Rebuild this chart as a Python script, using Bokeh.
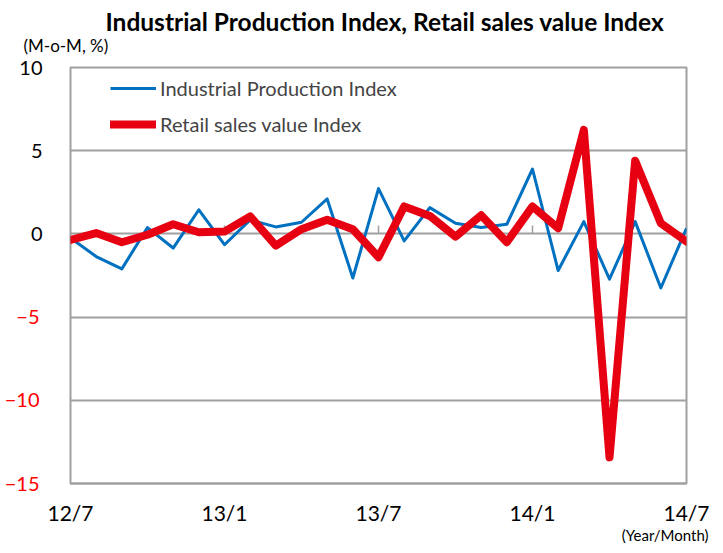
from bokeh.plotting import figure
from bokeh.models import FixedTicker, Legend, LegendItem, Range1d, Title, LinearAxis
from bokeh.layouts import column, row
from bokeh.core.properties import value
from bokeh.embed import file_html
from bokeh.resources import INLINE

# ---- data ----
months = ["12/7", "12/8", "12/9", "12/10", "12/11", "12/12",
          "13/1", "13/2", "13/3", "13/4", "13/5", "13/6",
          "13/7", "13/8", "13/9", "13/10", "13/11", "13/12",
          "14/1", "14/2", "14/3", "14/4", "14/5", "14/6", "14/7"]
industrial = [-0.25, -1.36, -2.1, 0.38, -0.85, 1.45, -0.65, 0.84, 0.42, 0.7,
              2.1, -2.65, 2.72, -0.42, 1.58, 0.64, 0.38, 0.58, 3.9, -2.2,
              0.74, -2.72, 0.74, -3.25, 0.34]
retail = [-0.36, 0.05, -0.5, -0.05, 0.58, 0.1, 0.14, 1.05, -0.7, 0.28,
          0.85, 0.28, -1.4, 1.65, 1.08, -0.16, 1.12, -0.5, 1.65, 0.34,
          6.25, -13.43, 4.4, 0.64, -0.46]
y_ticks = [-15, -10, -5, 0, 5, 10]
x_tick_idx = [0, 6, 12, 18, 24]
zero_tick_idx = [6, 12, 18]

title_text = "Industrial Production Index, Retail sales value Index"
unit_text = "(M-o-M, %)"
xunit_text = "(Year/Month)"

x = list(range(len(months)))
FONT = "Lato"
GRAY = "#a0a0a0"
RED_TXT = "#ff0000"

TOTAL_W, TOTAL_H = 715, 545
TOP_H = 56

# ---- top strip: title and unit ----
top = figure(width=TOTAL_W, height=TOP_H, output_backend="svg", toolbar_location=None,
             title=None, x_range=Range1d(0, TOTAL_W), y_range=Range1d(0, TOP_H),
             min_border_left=0, min_border_right=0, min_border_top=0,
             min_border_bottom=0)
top.axis.visible = False
top.grid.visible = False
top.outline_line_color = None
top.text(x=[105], y=[TOP_H - 20.5], text=[title_text], text_align="left",
         text_baseline="alphabetic", text_font=value(FONT), text_font_style="bold",
         text_font_size="24.5px", text_color="black")
top.text(x=[23], y=[TOP_H - 44.8], text=[unit_text], text_align="left",
         text_baseline="alphabetic", text_font=value(FONT), text_font_size="17px",
         text_color="black")

# ---- main plot ----
p = figure(width=TOTAL_W, height=TOTAL_H - TOP_H, output_backend="svg",
           toolbar_location=None, title=None,
           x_range=Range1d(0, 24), y_range=Range1d(-15, 10),
           min_border_left=70, min_border_right=29,
           min_border_top=11, min_border_bottom=62)

p.xgrid.visible = False
p.ygrid.ticker = FixedTicker(ticks=[-10, -5, 0, 5])
p.ygrid.grid_line_color = GRAY
p.ygrid.grid_line_width = 2
p.outline_line_color = GRAY
p.outline_line_width = 2


def style_y(ax, ticks, color, standoff):
    ax.ticker = FixedTicker(ticks=ticks)
    ax.major_tick_line_color = None
    ax.minor_tick_line_color = None
    ax.major_tick_out = 0
    ax.major_tick_in = 0
    ax.axis_line_color = None
    ax.major_label_standoff = standoff
    ax.major_label_text_font = FONT
    ax.major_label_text_font_size = "20px"
    ax.major_label_text_color = color


# inner axis: black labels (0, 5, 10); outer axis: red labels (-5, -10, -15),
# pulled back so that both columns of labels line up
style_y(p.yaxis[0], [t for t in y_ticks if t >= 0], "black", 28)
red_axis = LinearAxis()
style_y(red_axis, [t for t in y_ticks if t < 0], RED_TXT, -23)
p.add_layout(red_axis, "left")

# x axis
p.xaxis.ticker = FixedTicker(ticks=x_tick_idx)
p.xaxis.major_label_overrides = {i: months[i] for i in x_tick_idx}
p.xaxis.major_tick_line_color = None
p.xaxis.minor_tick_line_color = None
p.xaxis.major_tick_out = 0
p.xaxis.major_tick_in = 0
p.xaxis.axis_line_color = GRAY
p.xaxis.axis_line_width = 2
p.xaxis.major_label_standoff = 16
p.xaxis.major_label_text_font = FONT
p.xaxis.major_label_text_font_size = "21px"
p.xaxis.major_label_text_color = "black"

p.add_layout(Title(text=xunit_text, align="right", offset=-22, standoff=-8,
                   text_font=FONT, text_font_size="15px", text_font_style="normal",
                   text_color="black"), "below")

# small tick marks on the zero line
p.segment(x0=zero_tick_idx, y0=[0] * 3, x1=zero_tick_idx, y1=[0.5] * 3,
          line_color=GRAY, line_width=1.5)

rb = p.line(x, industrial, line_color="#0070c0", line_width=3, line_join="round")
rr = p.line(x, retail, line_color="#e60012", line_width=8, line_join="round",
            line_cap="round")

legend = Legend(items=[LegendItem(label="Industrial Production Index", renderers=[rb]),
                       LegendItem(label="Retail sales value Index", renderers=[rr])],
                location=(40, 347), glyph_width=46, glyph_height=20,
                label_standoff=4, spacing=12, padding=0, margin=0,
                border_line_color=None, background_fill_alpha=0,
                label_text_font=FONT, label_text_font_size="20px",
                label_height=20)
p.add_layout(legend)

layout = column(top, row(p, spacing=0), spacing=0)
open("out.html", "w").write(file_html(layout, INLINE))
